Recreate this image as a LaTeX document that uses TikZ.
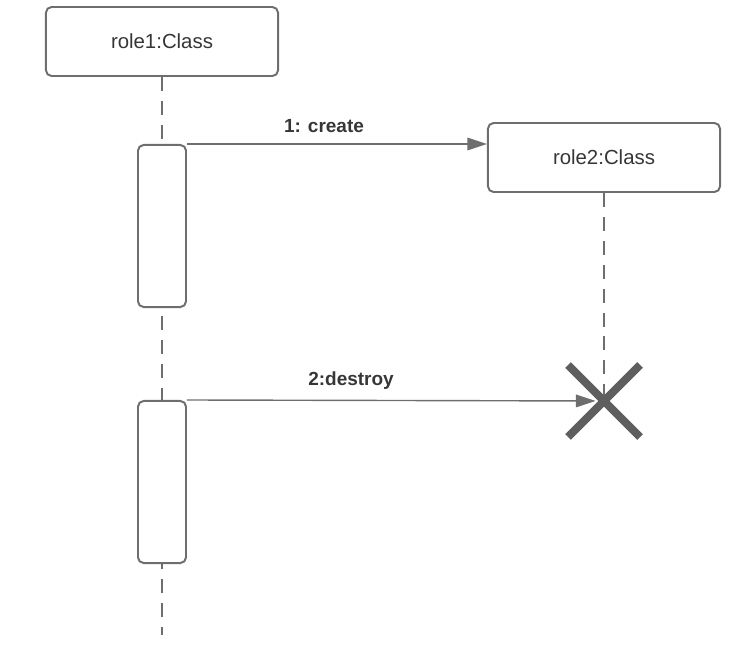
\documentclass[tikz,border=0pt]{standalone}
\usepackage{fontspec}
\setmainfont{Liberation Sans}
\usetikzlibrary{arrows.meta}
\definecolor{linegray}{HTML}{6E6E6E}
\definecolor{textgray}{HTML}{363636}
\definecolor{crossgray}{HTML}{5E5E5E}

\begin{document}
\begin{tikzpicture}[x=0.025cm,y=-0.025cm,
  role/.style={draw=linegray,line width=1.4pt,rounded corners=4pt,fill=white,minimum width=5.8cm,minimum height=1.725cm,text=textgray,font=\fontsize{14.5}{17}\selectfont},
  activation/.style={draw=linegray,line width=1.4pt,rounded corners=4pt,fill=white,minimum width=1.2cm,minimum height=4.05cm},
  lifeline/.style={draw=linegray,line width=1.4pt,dash pattern=on 10pt off 7pt},
  message/.style={draw=linegray,line width=1pt,-{Triangle[length=14pt,width=9pt]}},
  msglabel/.style={text=textgray,font=\bfseries\fontsize{13.5}{16}\selectfont}]
\useasboundingbox (0,0) rectangle (752,650);
\node[role] (role1) at (162,41.5) {role1:Class};
\node[role] (role2) at (604,157.5) {role2:Class};
\coordinate (end1) at (162,635);
\coordinate (kill) at (604,401);
% lifelines
\draw[lifeline] (role1.south) -- (end1);
\draw[lifeline] (role2.south) -- (kill);
\node[activation] (act1) at (162,226) {};
\node[activation] (act2) at (162,482) {};
% messages
\draw[message] (act1.north east) -- (act1.north east -| role2.west);
\node[msglabel] (createlbl) at (324,126) {1: create};
\draw[message,shorten >=6pt] (act2.north east) -- (kill);
\node[msglabel] (destroylbl) at (351,381) {2:destroy};
% destruction mark
\draw[crossgray,line width=5.7pt] ([shift={(-36,-36)}]kill) -- ([shift={(36,36)}]kill);
\draw[crossgray,line width=5.7pt] ([shift={(-36,36)}]kill) -- ([shift={(36,-36)}]kill);
\end{tikzpicture}
\end{document}
